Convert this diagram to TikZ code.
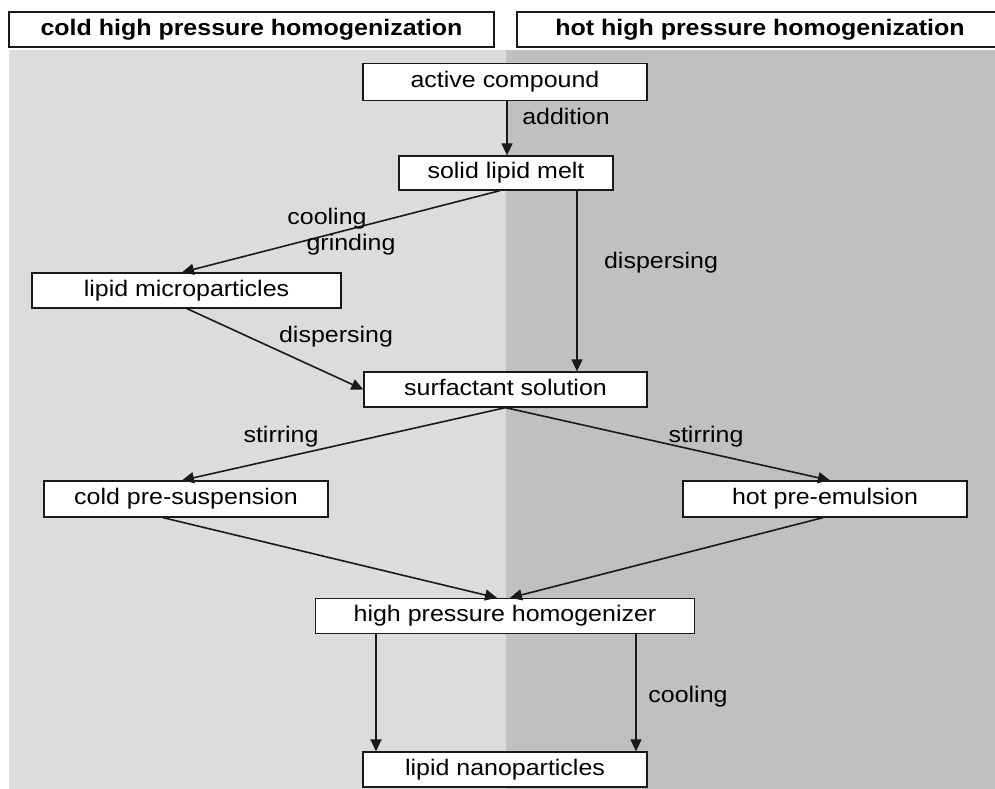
\documentclass[tikz,border=0pt]{standalone}
\usepackage{fontspec}
\setmainfont{Liberation Sans}[FakeStretch=1.11]
\usetikzlibrary{arrows.meta}
\definecolor{coldbg}{RGB}{220,220,220}
\definecolor{hotbg}{RGB}{192,192,192}
\definecolor{edgec}{RGB}{25,25,25}
\begin{document}
\begin{tikzpicture}[x=1pt,y=-1pt,
  box/.style={draw=edgec,line width=1.3pt,fill=white,inner sep=0pt,minimum height=35pt,
    text height=16pt,text depth=4.5pt,font=\fontsize{22.5}{25}\selectfont},
  head/.style={box,font=\fontsize{22.5}{25}\selectfont\bfseries},
  lbl/.style={inner sep=0pt,text height=16pt,text depth=4.5pt,font=\fontsize{22.5}{25}\selectfont},
  flow/.style={draw=edgec,line width=1.6pt,-{Triangle[length=12pt,width=11pt]}}]
\useasboundingbox (0,0) rectangle (995,789);
\fill[white] (0,0) rectangle (995,789);
\fill[coldbg] (9,50) rectangle (506,789);
\fill[hotbg] (506,50) rectangle (995,789);

\node[head,minimum width=485pt] (hcold) at (251.5,29.5) {cold high pressure homogenization};
\node[head,minimum width=486pt] (hhot) at (760,29.5) {hot high pressure homogenization};

\node[box,minimum width=284pt,minimum height=37pt] (ac) at (505,82) {active compound};
\node[box,minimum width=214pt,minimum height=34pt] (slm) at (506,173) {solid lipid melt};
\node[box,minimum width=309pt] (lm) at (186.5,290.5) {lipid microparticles};
\node[box,minimum width=283pt] (ss) at (505.5,389.5) {surfactant solution};
\node[box,minimum width=284pt,minimum height=36pt] (cps) at (186,499) {cold pre-suspension};
\node[box,minimum width=284pt,minimum height=36pt] (hpe) at (825,499) {hot pre-emulsion};
\node[box,minimum width=379pt] (hph) at (505,616) {high pressure homogenizer};
\node[box,minimum width=284pt] (ln) at (505,769.5) {lipid nanoparticles};

\draw[flow] ([xshift=2pt]ac.south) -- ([xshift=1pt]slm.north);
\draw[flow] ([xshift=-6pt]slm.south) -- ([xshift=-4.5pt]lm.north);
\draw[flow] ([xshift=71pt]slm.south) -- ([xshift=71.5pt]ss.north);
\draw[flow] ([xshift=0.5pt]lm.south) -- (ss.west);
\draw[flow] (ss.south) -- ([xshift=-4pt]cps.north);
\draw[flow] (ss.south) -- ([xshift=5pt]hpe.north);
\draw[flow] ([xshift=-23pt]cps.south) -- ([xshift=-8pt]hph.north);
\draw[flow] ([xshift=-2pt]hpe.south) -- ([xshift=5pt]hph.north);
\draw[flow] ([xshift=-129pt]hph.south) -- ([xshift=-129pt]ln.north);
\draw[flow] ([xshift=131pt]hph.south) -- ([xshift=131pt]ln.north);

\node[lbl] (laddition) at (566,119) {addition};
\node[lbl] (lcooling1) at (327,219) {cooling};
\node[lbl] (lgrinding) at (351,245) {grinding};
\node[lbl] (ldisp1) at (661,263) {dispersing};
\node[lbl] (ldisp2) at (336,337) {dispersing};
\node[lbl] (lstir1) at (281,437) {stirring};
\node[lbl] (lstir2) at (706,437) {stirring};
\node[lbl] (lcooling2) at (688,697) {cooling};
\end{tikzpicture}
\end{document}
